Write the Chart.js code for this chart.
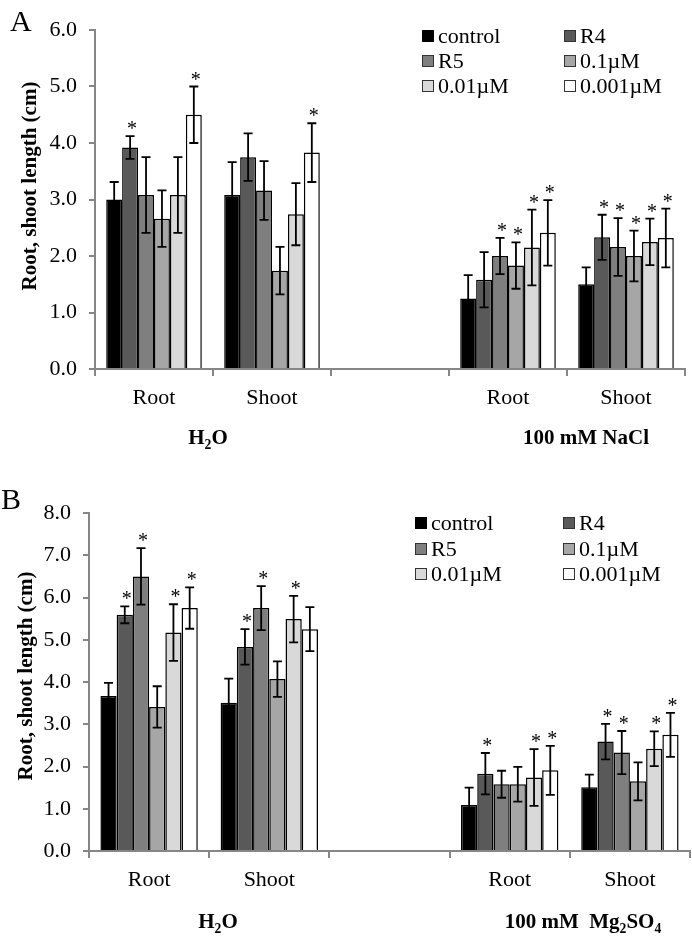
<!DOCTYPE html>
<html>
<head>
<meta charset="utf-8">
<script src="https://cdn.jsdelivr.net/npm/chart.js@4.4.1/dist/chart.umd.min.js"></script>
<style>
  body { margin: 0; background: #fff; width: 692px; height: 936px; position: relative; overflow: hidden; }
  .panel { position: absolute; left: 0; width: 692px; }
  #pa { top: 0; height: 468px; }
  #pb { top: 470px; height: 466px; }
  .tag { position: absolute; font: 30px 'Liberation Serif', 'Times New Roman', serif; line-height: 1; color: #000; }
</style>
</head>
<body>
<div class="panel" id="pa"><canvas id="chartA" width="692" height="468"></canvas></div>
<div class="panel" id="pb"><canvas id="chartB" width="692" height="466"></canvas></div>
<div class="tag" style="left:10px;top:6px">A</div>
<div class="tag" style="left:1px;top:484px">B</div>
<script>
// === DATA ===
const categories = ['Root', 'Shoot', '', 'Root', 'Shoot'];
const seriesNames = ['control', 'R4', 'R5', '0.1\u00b5M', '0.01\u00b5M', '0.001\u00b5M'];
const seriesColors = ['#000000', '#595959', '#7f7f7f', '#a6a6a6', '#d9d9d9', '#ffffff'];

// panel A: H2O (Root, Shoot), gap, 100 mM NaCl (Root, Shoot)
const aControl = [3.00, 3.08, null, 1.25, 1.50];
const aR4      = [3.92, 3.75, null, 1.58, 2.33];
const aR5      = [3.08, 3.16, null, 2.00, 2.16];
const a01      = [2.66, 1.74, null, 1.83, 2.00];
const a001     = [3.08, 2.74, null, 2.15, 2.25];
const a0001    = [4.50, 3.83, null, 2.41, 2.32];

const aErrControl = [0.31, 0.58, null, 0.41, 0.30];
const aErrR4      = [0.20, 0.42, null, 0.49, 0.40];
const aErrR5      = [0.67, 0.52, null, 0.32, 0.51];
const aErr01      = [0.50, 0.42, null, 0.41, 0.45];
const aErr001     = [0.67, 0.55, null, 0.67, 0.41];
const aErr0001    = [0.50, 0.52, null, 0.58, 0.52];

// 1 = asterisk above the bar
const aSigControl = [0, 0, 0, 0, 0];
const aSigR4      = [1, 0, 0, 0, 1];
const aSigR5      = [0, 0, 0, 1, 1];
const aSig01      = [0, 0, 0, 1, 1];
const aSig001     = [0, 0, 0, 1, 1];
const aSig0001    = [1, 1, 0, 1, 1];

// panel B: H2O (Root, Shoot), gap, 100 mM Mg2SO4 (Root, Shoot)
const bControl = [3.67, 3.51, null, 1.09, 1.51];
const bR4      = [5.59, 4.83, null, 1.83, 2.59];
const bR5      = [6.50, 5.75, null, 1.58, 2.33];
const b01      = [3.41, 4.07, null, 1.58, 1.65];
const b001     = [5.17, 5.49, null, 1.74, 2.42];
const b0001    = [5.75, 5.25, null, 1.91, 2.75];

const bErrControl = [0.31, 0.57, null, 0.41, 0.30];
const bErrR4      = [0.20, 0.42, null, 0.49, 0.42];
const bErrR5      = [0.67, 0.52, null, 0.32, 0.51];
const bErr01      = [0.49, 0.42, null, 0.41, 0.45];
const bErr001     = [0.67, 0.55, null, 0.67, 0.41];
const bErr0001    = [0.49, 0.52, null, 0.58, 0.52];

const bSigControl = [0, 0, 0, 0, 0];
const bSigR4      = [1, 1, 0, 1, 1];
const bSigR5      = [1, 1, 0, 0, 1];
const bSig01      = [0, 0, 0, 0, 0];
const bSig001     = [1, 1, 0, 1, 1];
const bSig0001    = [1, 0, 0, 1, 1];

const yTitle = 'Root, shoot length (cm)';
const serif = "'Liberation Serif', 'Times New Roman', serif";
const axisGray = '#868686';

// text pieces: [text, isSubscript]
function drawRich(ctx, parts, cx, cy, size) {
  let w = 0;
  parts.forEach(p => {
    ctx.font = 'bold ' + (p[1] ? size * 0.65 : size) + 'px ' + serif;
    w += ctx.measureText(p[0]).width;
  });
  let x = cx - w / 2;
  ctx.textAlign = 'left';
  ctx.textBaseline = 'alphabetic';
  parts.forEach(p => {
    ctx.font = 'bold ' + (p[1] ? size * 0.65 : size) + 'px ' + serif;
    ctx.fillText(p[0], x, cy + (p[1] ? size * 0.22 : 0));
    x += ctx.measureText(p[0]).width;
  });
}

function makeDecor(p) {
  return {
    id: 'decor',
    afterDatasetsDraw(chart) {
      const ctx = chart.ctx, ys = chart.scales.y;
      ctx.save();
      chart.data.datasets.forEach((ds, i) => {
        chart.getDatasetMeta(i).data.forEach((bar, j) => {
          const v = ds.data[j];
          if (v == null) return;
          const e = p.err[i][j];
          const t = ys.getPixelForValue(v + e), b = ys.getPixelForValue(v - e);
          ctx.strokeStyle = '#000';
          ctx.lineWidth = 1.8;
          ctx.beginPath();
          ctx.moveTo(bar.x, t); ctx.lineTo(bar.x, b);
          ctx.moveTo(bar.x - 4.5, t); ctx.lineTo(bar.x + 4.5, t);
          ctx.moveTo(bar.x - 4.5, b); ctx.lineTo(bar.x + 4.5, b);
          ctx.stroke();
          if (p.sig[i][j]) {
            ctx.fillStyle = '#000';
            ctx.font = '20px ' + serif;
            ctx.textAlign = 'center';
            ctx.textBaseline = 'alphabetic';
            ctx.fillText('*', bar.x + 2, t - 1);
          }
        });
      });
      ctx.restore();
    },
    afterDraw(chart) {
      const ctx = chart.ctx;
      ctx.save();
      ctx.fillStyle = '#000';
      // legend, 2 columns x 3 rows
      chart.data.datasets.forEach((ds, i) => {
        const col = i % 2, row = Math.floor(i / 2);
        const bx = p.legend.x[col], cy = p.legend.y[row];
        ctx.fillStyle = ds.backgroundColor;
        ctx.fillRect(bx, cy - 6, 12, 12);
        ctx.strokeStyle = i === 0 ? '#000' : '#333';
        ctx.lineWidth = 1;
        ctx.strokeRect(bx + 0.5, cy - 5.5, 11, 11);
        ctx.fillStyle = '#000';
        ctx.font = '22px ' + serif;
        ctx.textAlign = 'left';
        ctx.textBaseline = 'middle';
        ctx.fillText(ds.label, bx + 16, cy + 1);
      });
      // y title
      ctx.save();
      ctx.translate(p.title.x, p.title.y);
      ctx.rotate(-Math.PI / 2);
      ctx.font = 'bold 21px ' + serif;
      ctx.textAlign = 'center';
      ctx.textBaseline = 'middle';
      ctx.fillText(yTitle, 0, 0);
      ctx.restore();
      // group labels under the axis
      p.groups.forEach(g => drawRich(ctx, g.parts, g.x, g.y, 21));
      ctx.restore();
    }
  };
}

function buildChart(id, p) {
  return new Chart(document.getElementById(id), {
    type: 'bar',
    data: {
      labels: categories,
      datasets: p.values.map((vals, i) => ({
        label: seriesNames[i],
        data: vals,
        backgroundColor: seriesColors[i],
        borderColor: '#000',
        borderWidth: 1.5,
        categoryPercentage: 0.81,
        barPercentage: 1.0
      }))
    },
    options: {
      responsive: false,
      animation: false,
      layout: { padding: { left: 0, top: p.top, right: p.right, bottom: 0 } },
      plugins: { legend: { display: false }, tooltip: { enabled: false } },
      scales: {
        x: {
          grid: { display: true, drawOnChartArea: false, drawTicks: true, tickLength: 7, color: axisGray, lineWidth: 2, offset: true },
          border: { color: axisGray, width: 2 },
          ticks: { color: '#000', font: { family: serif, size: 22 }, padding: 9, maxRotation: 0, autoSkip: false },
          afterFit: s => { s.height = p.xh; }
        },
        y: {
          min: 0, max: p.max,
          grid: { drawOnChartArea: false, drawTicks: true, tickLength: 6, color: axisGray, lineWidth: 2 },
          border: { color: axisGray, width: 2 },
          ticks: { stepSize: 1, color: '#000', font: { family: serif, size: 22 }, padding: 12, callback: v => v.toFixed(1) },
          afterFit: s => { s.width = p.yw; }
        }
      }
    },
    plugins: [makeDecor(p)]
  });
}

buildChart('chartA', {
  values: [aControl, aR4, aR5, a01, a001, a0001],
  err: [aErrControl, aErrR4, aErrR5, aErr01, aErr001, aErr0001],
  sig: [aSigControl, aSigR4, aSigR5, aSig01, aSig001, aSig0001],
  max: 6, top: 30, right: 7, xh: 99, yw: 95,
  legend: { x: [422, 564], y: [36, 61, 86] },
  title: { x: 31, y: 186 },
  groups: [
    { x: 208, y: 444, parts: [['H', 0], ['2', 1], ['O', 0]] },
    { x: 586, y: 444, parts: [['100 mM NaCl', 0]] }
  ]
});

buildChart('chartB', {
  values: [bControl, bR4, bR5, b01, b001, b0001],
  err: [bErrControl, bErrR4, bErrR5, bErr01, bErr001, bErr0001],
  sig: [bSigControl, bSigR4, bSigR5, bSig01, bSig001, bSig0001],
  max: 8, top: 43, right: 2, xh: 85, yw: 89,
  legend: { x: [415, 563], y: [53, 79, 104] },
  title: { x: 27, y: 206 },
  groups: [
    { x: 218, y: 458, parts: [['H', 0], ['2', 1], ['O', 0]] },
    { x: 583, y: 458, parts: [['100 mM  Mg', 0], ['2', 1], ['SO', 0], ['4', 1]] }
  ]
});
</script>
</body>
</html>
